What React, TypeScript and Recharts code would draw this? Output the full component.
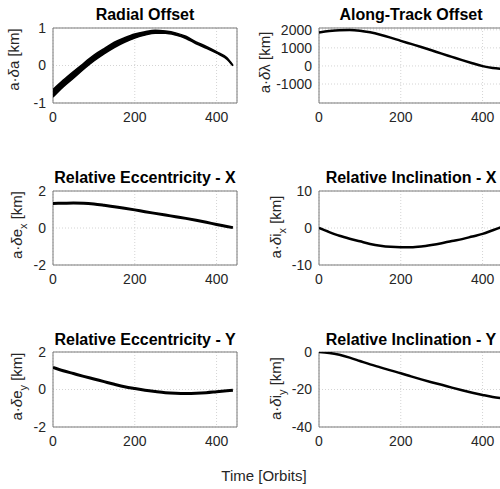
import React from 'react'
import { ComposedChart, Line, Area, XAxis, YAxis, CartesianGrid, ReferenceArea } from 'recharts'

// orbit counts (left column runs to 440, right column to the axis edge)
const orbitsL = [0, 25, 50, 75, 100, 125, 150, 175, 200, 225, 250, 275, 300, 325, 350, 375, 400, 425, 440]
const orbitsR = [0, 25, 50, 75, 100, 125, 150, 175, 200, 225, 250, 275, 300, 325, 350, 375, 400, 425, 450]

// radial offset is a noisy band: lower / upper edges [km]
const radialLo = [-0.84, -0.57, -0.34, -0.1, 0.12, 0.31, 0.48, 0.62, 0.73, 0.81, 0.86, 0.86, 0.81, 0.72, 0.58, 0.46, 0.33, 0.17, -0.01]
const radialHi = [-0.64, -0.39, -0.16, 0.06, 0.28, 0.45, 0.62, 0.74, 0.84, 0.9, 0.94, 0.92, 0.87, 0.78, 0.63, 0.51, 0.37, 0.21, 0.01]

const alongTrack = [1850, 1930, 1980, 1990, 1950, 1860, 1730, 1570, 1390, 1220, 1050, 870, 680, 500, 320, 150, -10, -110, -160]
const eccX = [1.33, 1.34, 1.35, 1.34, 1.3, 1.23, 1.15, 1.07, 0.98, 0.88, 0.79, 0.7, 0.61, 0.52, 0.42, 0.31, 0.19, 0.08, 0.02]
const incX = [0, -1.1, -2.1, -2.9, -3.6, -4.3, -4.8, -5.1, -5.2, -5.2, -5.0, -4.6, -4.1, -3.5, -3.0, -2.3, -1.6, -0.6, 0.4]
const eccY = [1.18, 1.0, 0.85, 0.7, 0.56, 0.42, 0.28, 0.15, 0.05, -0.04, -0.11, -0.17, -0.2, -0.21, -0.2, -0.17, -0.12, -0.07, -0.04]
const incY = [0, -0.5, -1.5, -3, -4.8, -6.6, -8.2, -9.8, -11.3, -13, -14.6, -16.1, -17.5, -19, -20.4, -21.7, -22.9, -24, -24.8]

const xTicks = [0, 200, 400]

const FONT = '"Liberation Sans", Arial, Helvetica, sans-serif'
const INK = '#262626'

function YLab({ lx, lcy, main, sub }: any) {
  return (
    <text x={lx} y={lcy} transform={`rotate(-90 ${lx} ${lcy})`} textAnchor="middle" fontSize={15} fill={INK} fontFamily={FONT}>
      <tspan>a·</tspan>
      <tspan fontStyle="italic">δ</tspan>
      <tspan>{main}</tspan>
      {sub ? <tspan dy={5} fontSize={11}>{sub}</tspan> : null}
      <tspan dy={sub ? -5 : 0}> [km]</tspan>
    </text>
  )
}

interface PanelProps {
  left: number
  top: number
  axisW: number
  plotH: number
  data: any[]
  domain: [number, number]
  ticks: number[]
  labX: number
  labOff: number
  main: string
  sub?: string
  band?: boolean
  sw?: number
}

function Panel(p: PanelProps) {
  const mTop = 10
  const plotW = 184
  const width = p.axisW + plotW + 8
  const height = mTop + p.plotH + 30
  const cy = mTop + p.plotH / 2 + p.labOff
  return (
    <div style={{ position: 'absolute', left: p.left, top: p.top - mTop }}>
      <ComposedChart width={width} height={height} data={p.data} margin={{ top: mTop, right: 8, bottom: 0, left: 0 }}>
        <CartesianGrid stroke="#d4d4d4" strokeDasharray="1 2" />
        <XAxis
          dataKey="t"
          type="number"
          domain={[0, 450]}
          ticks={xTicks}
          interval={0}
          allowDataOverflow
          axisLine={false}
          tickLine={false}
          tickSize={5}
          tickMargin={4}
          height={30}
          tick={{ fontSize: 14, fill: INK, fontFamily: FONT }}
        />
        <YAxis
          type="number"
          domain={p.domain}
          ticks={p.ticks}
          interval={0}
          allowDataOverflow
          axisLine={false}
          tickLine={false}
          tickSize={4}
          tickMargin={3}
          width={p.axisW}
          tick={{ fontSize: 14, fill: INK, fontFamily: FONT }}
          label={<YLab lx={p.labX} lcy={cy} main={p.main} sub={p.sub} />}
        />
        <ReferenceArea x1={0} x2={450} y1={p.domain[0]} y2={p.domain[1]} fill="none" stroke="#7a7a7a" strokeWidth={1} ifOverflow="visible" />
        {p.band ? (
          <Area dataKey="band" type="monotone" stroke="#000" strokeWidth={1.5} fill="#000" fillOpacity={1} dot={false} activeDot={false} isAnimationActive={false} />
        ) : (
          <Line dataKey="v" type="monotone" stroke="#000" strokeWidth={p.sw ?? 2.5} dot={false} activeDot={false} isAnimationActive={false} />
        )}
      </ComposedChart>
    </div>
  )
}

const radialData = orbitsL.map((t, i) => ({ t, band: [radialLo[i], radialHi[i]] }))
const alongData = orbitsR.map((t, i) => ({ t, v: alongTrack[i] }))
const eccXData = orbitsL.map((t, i) => ({ t, v: eccX[i] }))
const incXData = orbitsR.map((t, i) => ({ t, v: incX[i] }))
const eccYData = orbitsL.map((t, i) => ({ t, v: eccY[i] }))
const incYData = orbitsR.map((t, i) => ({ t, v: incY[i] }))

export default function App() {
  const titleStyle = { fontSize: 16, fontWeight: 700, fill: '#000', fontFamily: FONT }
  return (
    <div style={{ position: 'absolute', left: 0, top: 0, width: 500, height: 489, overflow: 'hidden', background: '#fff' }}>
      <Panel left={0} top={28} axisW={53} plotH={75} data={radialData} domain={[-1, 1]} ticks={[-1, 0, 1]} labX={19} labOff={-6} main="a" band />
      <Panel left={250} top={28} axisW={69} plotH={75} data={alongData} domain={[-2050, 2100]} ticks={[-1000, 0, 1000, 2000]} labX={20} labOff={-3} main="λ" />
      <Panel left={0} top={191} axisW={53} plotH={74} data={eccXData} domain={[-2, 2]} ticks={[-2, 0, 2]} labX={22} labOff={-3} main="e" sub="x" sw={3} />
      <Panel left={250} top={191} axisW={69} plotH={74} data={incXData} domain={[-10, 10]} ticks={[-10, 0, 10]} labX={31} labOff={-1} main="i" sub="x" />
      <Panel left={0} top={352} axisW={53} plotH={75} data={eccYData} domain={[-2, 2]} ticks={[-2, 0, 2]} labX={22} labOff={-3} main="e" sub="y" sw={3} />
      <Panel left={250} top={352} axisW={69} plotH={75} data={incYData} domain={[-40, 0]} ticks={[-40, -20, 0]} labX={31} labOff={-1} main="i" sub="y" />
      <svg width={500} height={489} style={{ position: 'absolute', left: 0, top: 0, pointerEvents: 'none' }}>
        <text x={145} y={20} textAnchor="middle" {...titleStyle}>Radial Offset</text>
        <text x={411} y={20} textAnchor="middle" {...titleStyle}>Along-Track Offset</text>
        <text x={145} y={183} textAnchor="middle" {...titleStyle}>Relative Eccentricity - X</text>
        <text x={411} y={183} textAnchor="middle" {...titleStyle}>Relative Inclination - X</text>
        <text x={145} y={345} textAnchor="middle" {...titleStyle}>Relative Eccentricity - Y</text>
        <text x={411} y={345} textAnchor="middle" {...titleStyle}>Relative Inclination - Y</text>
        <text x={264} y={481} textAnchor="middle" fontSize={15} fill={INK} fontFamily={FONT}>Time [Orbits]</text>
      </svg>
    </div>
  )
}
